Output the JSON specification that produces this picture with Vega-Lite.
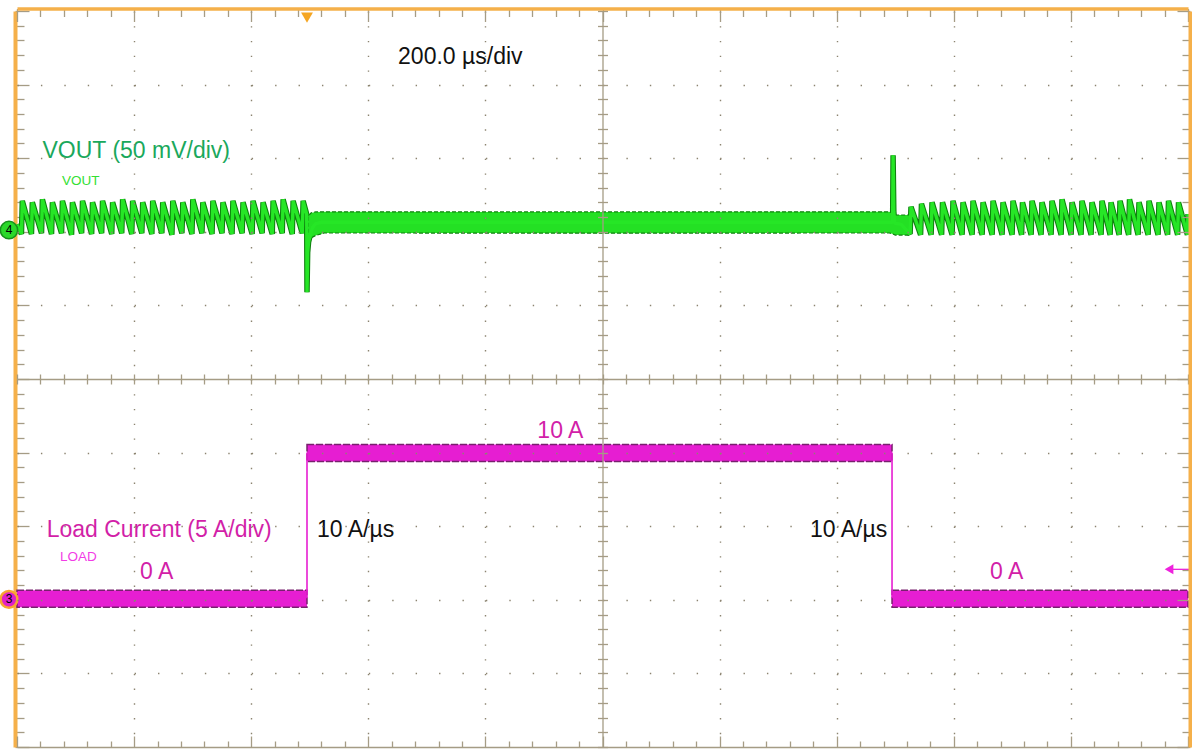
{
  "$schema": "https://vega.github.io/schema/vega-lite/v6.json",
  "width": 1171,
  "height": 736,
  "autosize": "none",
  "padding": {"left": 17, "top": 11, "right": 4, "bottom": 2},
  "background": "white",
  "config": {"view": {"stroke": null}},
  "datasets": {
    "vout": [
      {"t": -500, "v": 5}, {"t": -492.4, "v": -1.5},
      {"t": -490.9, "v": 21}, {"t": -475.3, "v": -1.5},
      {"t": -473.8, "v": 20}, {"t": -458.1, "v": -1},
      {"t": -456.6, "v": 22}, {"t": -441.0, "v": -1.5},
      {"t": -439.5, "v": 20}, {"t": -423.9, "v": -1},
      {"t": -422.4, "v": 21}, {"t": -406.8, "v": -2},
      {"t": -405.3, "v": 20}, {"t": -389.6, "v": -1},
      {"t": -388.1, "v": 21}, {"t": -372.5, "v": -1.5},
      {"t": -371.0, "v": 20}, {"t": -355.4, "v": -1},
      {"t": -353.9, "v": 21}, {"t": -338.2, "v": -1.5},
      {"t": -336.7, "v": 20}, {"t": -321.1, "v": -1},
      {"t": -319.6, "v": 22}, {"t": -304.0, "v": -1.5},
      {"t": -302.5, "v": 21}, {"t": -286.8, "v": -1},
      {"t": -285.3, "v": 20}, {"t": -269.7, "v": -1.5},
      {"t": -268.2, "v": 21}, {"t": -252.6, "v": -1},
      {"t": -251.1, "v": 20}, {"t": -235.4, "v": -2},
      {"t": -233.9, "v": 21}, {"t": -218.3, "v": -1},
      {"t": -216.8, "v": 20}, {"t": -201.2, "v": -1.5},
      {"t": -199.7, "v": 22}, {"t": -184.1, "v": -1},
      {"t": -182.6, "v": 20}, {"t": -166.9, "v": -1.5},
      {"t": -165.4, "v": 21}, {"t": -149.8, "v": -1},
      {"t": -148.3, "v": 20}, {"t": -132.7, "v": -1.5},
      {"t": -131.2, "v": 21}, {"t": -115.5, "v": -1},
      {"t": -114.0, "v": 20}, {"t": -98.4, "v": -1.5},
      {"t": -96.9, "v": 21}, {"t": -81.3, "v": -1},
      {"t": -79.8, "v": 20}, {"t": -64.1, "v": -1.5},
      {"t": -62.6, "v": 21}, {"t": -47.0, "v": -1},
      {"t": -45.5, "v": 22}, {"t": -29.9, "v": -1.5},
      {"t": -28.4, "v": 21}, {"t": -12.8, "v": -1},
      {"t": -11.3, "v": 21}, {"t": -5.2, "v": 12},
      {"t": -4.7, "v": -41}, {"t": -3.6, "v": -14}, {"t": -2, "v": -7}, {"t": 1, "v": -2},
      {"t": 5, "v": 3}, {"t": 10, "v": 5.5}, {"t": 20, "v": 6.5}, {"t": 500, "v": 6.5},
      {"t": 995.5, "v": 6.5}, {"t": 996.3, "v": 52}, {"t": 997.5, "v": 14}, {"t": 999, "v": 6},
      {"t": 1010, "v": 5}, {"t": 1025.4, "v": -1.5},
      {"t": 1026.9, "v": 17}, {"t": 1043.3, "v": -2},
      {"t": 1044.8, "v": 19}, {"t": 1061.3, "v": -2},
      {"t": 1062.8, "v": 20}, {"t": 1079.2, "v": -2},
      {"t": 1080.7, "v": 20}, {"t": 1097.1, "v": -2},
      {"t": 1098.6, "v": 21}, {"t": 1114.2, "v": -2},
      {"t": 1115.7, "v": 20}, {"t": 1131.3, "v": -2},
      {"t": 1132.8, "v": 21}, {"t": 1148.4, "v": -2},
      {"t": 1149.9, "v": 20}, {"t": 1165.5, "v": -2},
      {"t": 1167.0, "v": 21}, {"t": 1182.5, "v": -2},
      {"t": 1184.0, "v": 20}, {"t": 1199.6, "v": -2},
      {"t": 1201.1, "v": 21}, {"t": 1215.8, "v": -2},
      {"t": 1217.3, "v": 20}, {"t": 1232.1, "v": -2},
      {"t": 1233.6, "v": 21}, {"t": 1249.1, "v": -2},
      {"t": 1250.6, "v": 20}, {"t": 1266.2, "v": -2},
      {"t": 1267.7, "v": 21}, {"t": 1283.3, "v": -2},
      {"t": 1284.8, "v": 22}, {"t": 1300.4, "v": -2},
      {"t": 1301.9, "v": 20}, {"t": 1317.4, "v": -2},
      {"t": 1318.9, "v": 21}, {"t": 1334.5, "v": -2},
      {"t": 1336.0, "v": 20}, {"t": 1351.6, "v": -2},
      {"t": 1353.1, "v": 21}, {"t": 1367.0, "v": -2},
      {"t": 1368.5, "v": 20}, {"t": 1382.4, "v": -2},
      {"t": 1383.9, "v": 21}, {"t": 1398.6, "v": -2},
      {"t": 1400.1, "v": 22}, {"t": 1414.8, "v": -2},
      {"t": 1416.3, "v": 20}, {"t": 1431.9, "v": -2},
      {"t": 1433.4, "v": 21}, {"t": 1448.9, "v": -2},
      {"t": 1450.4, "v": 20}, {"t": 1465.2, "v": -2},
      {"t": 1466.7, "v": 21}, {"t": 1482.3, "v": -2},
      {"t": 1483.8, "v": 20}, {"t": 1499, "v": -2},
      {"t": 1500, "v": 12}
    ],
    "band": [
      {"t": -3, "lo": -6.9, "hi": 10.1},
      {"t": 2, "lo": -4.2, "hi": 12.8},
      {"t": 10, "lo": -2.5, "hi": 13.5},
      {"t": 25, "lo": -0.8, "hi": 13.6},
      {"t": 500, "lo": -0.9, "hi": 13.5},
      {"t": 990, "lo": -0.8, "hi": 13.6},
      {"t": 996, "lo": -1.5, "hi": 12.5},
      {"t": 1000, "lo": -2.2, "hi": 11.4},
      {"t": 1025, "lo": -2.2, "hi": 11.4}
    ],
    "cur": [
      {"t": -500, "t2": -4.7, "lo": -0.5, "hi": 0.65},
      {"t": -4.7, "t2": 994.5, "lo": 9.4, "hi": 10.55},
      {"t": 994.5, "t2": 1500, "lo": -0.5, "hi": 0.65}
    ],
    "edges": [
      {"t": -4.7, "i1": 0.1, "i2": 10},
      {"t": 994.5, "i1": 0.1, "i2": 10}
    ]
  },
  "resolve": {"scale": {"y": "independent"}, "axis": {"x": "independent", "y": "independent"}},
  "layer": [
    {
      "data": {"name": "vout"},
      "mark": {"type": "line", "color": "#0f800f", "strokeWidth": 5.5, "strokeJoin": "bevel", "interpolate": "linear"},
      "encoding": {
        "x": {"field": "t", "type": "quantitative", "scale": {"domain": [-500, 1500], "nice": false, "zero": false},
          "axis": {"orient": "bottom", "values": [-500,-460,-420,-380,-340,-300,-260,-220,-180,-140,-100,-60,-20,20,60,100,140,180,220,260,300,340,380,420,460,500,540,580,620,660,700,740,780,820,860,900,940,980,1020,1060,1100,1140,1180,1220,1260,1300,1340,1380,1420,1460,1500],
            "domain": true, "domainColor": "#a59c85", "domainWidth": 1.5, "ticks": true, "tickColor": "#a59c85", "tickWidth": 1.3,
            "tickSize": {"condition": {"test": "abs(datum.value % 200) === 100", "value": -11}, "value": -6},
            "labels": false, "title": null, "grid": false, "zindex": 1}},
        "y": {"field": "v", "type": "quantitative", "scale": {"domain": [-350, 150], "nice": false, "zero": false},
          "axis": {"orient": "left", "offset": 2, "values": [-350,-340,-330,-320,-310,-300,-290,-280,-270,-260,-250,-240,-230,-220,-210,-200,-190,-180,-170,-160,-150,-140,-130,-120,-110,-100,-90,-80,-70,-60,-50,-40,-30,-20,-10,0,10,20,30,40,50,60,70,80,90,100,110,120,130,140,150],
            "domain": true, "domainColor": "#f5b04a", "domainWidth": 4, "ticks": true, "tickColor": "#a59c85", "tickWidth": 1.3,
            "tickSize": {"condition": {"test": "datum.value % 50 === 0", "value": -14}, "value": -9},
            "labels": false, "title": null, "grid": false, "zindex": 0}}
      }
    },
    {
      "data": {"name": "band"},
      "mark": {"type": "area", "color": "#24e024", "stroke": "#0f800f", "strokeWidth": 1.2, "strokeDash": [4, 2], "interpolate": "linear"},
      "encoding": {
        "x": {"field": "t", "type": "quantitative", "scale": {"domain": [-500, 1500], "nice": false, "zero": false},
          "axis": {"orient": "bottom", "values": [-300,-100,100,300,700,900,1100,1300], "domain": false, "ticks": false, "labels": false, "title": null,
            "grid": true, "gridColor": "#8c8470", "gridWidth": 1.4, "gridDash": [1.4, 13.32], "zindex": 1}},
        "y": {"field": "lo", "type": "quantitative", "scale": {"domain": [-350, 150], "nice": false, "zero": false},
          "axis": {"orient": "left", "values": [-300,-250,-200,-150,-50,0,50,100], "domain": false, "ticks": false, "labels": false, "title": null,
            "grid": true, "gridColor": "#8c8470", "gridWidth": 1.4, "gridDash": [1.4, 22.02], "zindex": 1}},
        "y2": {"field": "hi"}
      }
    },
    {
      "data": {"name": "vout"},
      "mark": {"type": "line", "color": "#26e626", "strokeWidth": 3.4, "strokeJoin": "bevel", "interpolate": "linear"},
      "encoding": {
        "x": {"field": "t", "type": "quantitative", "scale": {"domain": [-500, 1500], "nice": false, "zero": false},
          "axis": {"orient": "top", "offset": 2.5, "values": [-500,-460,-420,-380,-340,-300,-260,-220,-180,-140,-100,-60,-20,20,60,100,140,180,220,260,300,340,380,420,460,500,540,580,620,660,700,740,780,820,860,900,940,980,1020,1060,1100,1140,1180,1220,1260,1300,1340,1380,1420,1460,1500],
            "domain": true, "domainColor": "#f5b04a", "domainWidth": 3.5, "ticks": true, "tickColor": "#a59c85", "tickWidth": 1.3,
            "tickSize": {"condition": {"test": "abs(datum.value % 200) === 100", "value": -13}, "value": -8},
            "labels": false, "title": null, "grid": false, "zindex": 1}},
        "y": {"field": "v", "type": "quantitative", "scale": {"domain": [-350, 150], "nice": false, "zero": false},
          "axis": {"orient": "right", "offset": 2, "values": [-350,-340,-330,-320,-310,-300,-290,-280,-270,-260,-250,-240,-230,-220,-210,-200,-190,-180,-170,-160,-150,-140,-130,-120,-110,-100,-90,-80,-70,-60,-50,-40,-30,-20,-10,0,10,20,30,40,50,60,70,80,90,100,110,120,130,140,150],
            "domain": true, "domainColor": "#f5b04a", "domainWidth": 4, "ticks": true, "tickColor": "#a59c85", "tickWidth": 1.3,
            "tickSize": {"condition": {"test": "datum.value % 50 === 0", "value": -13}, "value": -8},
            "labels": false, "title": null, "grid": false, "zindex": 1}}
      }
    },
    {
      "data": {"name": "cur"},
      "mark": {"type": "rect", "color": "#e61ed2", "stroke": "#78206e", "strokeWidth": 1.5, "strokeDash": [7, 2]},
      "encoding": {
        "x": {"field": "t", "type": "quantitative", "scale": {"domain": [-500, 1500], "nice": false, "zero": false},
          "axis": {"orient": "bottom", "offset": -368, "values": [-500,-460,-420,-380,-340,-300,-260,-220,-180,-140,-100,-60,-20,20,60,100,140,180,220,260,300,340,380,420,460,500,540,580,620,660,700,740,780,820,860,900,940,980,1020,1060,1100,1140,1180,1220,1260,1300,1340,1380,1420,1460,1500],
            "domain": true, "domainColor": "#a59c85", "domainWidth": 1.3, "ticks": true, "tickColor": "#a59c85", "tickWidth": 1.3, "tickSize": 5,
            "labels": false, "title": null, "grid": false, "zindex": 1}},
        "x2": {"field": "t2"},
        "y": {"field": "lo", "type": "quantitative", "scale": {"domain": [-10, 40], "nice": false, "zero": false}, "axis": null},
        "y2": {"field": "hi"}
      }
    },
    {
      "data": {"name": "edges"},
      "mark": {"type": "rule", "color": "#e61ed2", "strokeWidth": 1.6},
      "encoding": {
        "x": {"field": "t", "type": "quantitative", "scale": {"domain": [-500, 1500], "nice": false, "zero": false},
          "axis": {"orient": "top", "offset": -368, "values": [-500,-460,-420,-380,-340,-300,-260,-220,-180,-140,-100,-60,-20,20,60,100,140,180,220,260,300,340,380,420,460,500,540,580,620,660,700,740,780,820,860,900,940,980,1020,1060,1100,1140,1180,1220,1260,1300,1340,1380,1420,1460,1500],
            "domain": false, "ticks": true, "tickColor": "#a59c85", "tickWidth": 1.3, "tickSize": 5,
            "labels": false, "title": null, "grid": false, "zindex": 1}},
        "y": {"field": "i1", "type": "quantitative", "scale": {"domain": [-10, 40], "nice": false, "zero": false}, "axis": null},
        "y2": {"field": "i2"}
      }
    },
    {
      "data": {"values": [{"t": 150.8, "v": 114.3, "label": "200.0 µs/div"}]},
      "mark": {"type": "text", "font": "Liberation Sans", "fontSize": 23, "color": "#111111", "align": "left", "baseline": "alphabetic"},
      "encoding": {
        "x": {"field": "t", "type": "quantitative", "scale": {"domain": [-500, 1500], "nice": false, "zero": false}, "axis": null},
        "y": {"field": "v", "type": "quantitative", "scale": {"domain": [-350, 150], "nice": false, "zero": false},
          "axis": {"orient": "left", "offset": -585.5, "values": [-350,-340,-330,-320,-310,-300,-290,-280,-270,-260,-250,-240,-230,-220,-210,-200,-190,-180,-170,-160,-150,-140,-130,-120,-110,-100,-90,-80,-70,-60,-50,-40,-30,-20,-10,0,10,20,30,40,50,60,70,80,90,100,110,120,130,140,150],
            "domain": true, "domainColor": "#a59c85", "domainWidth": 1.3, "ticks": true, "tickColor": "#a59c85", "tickWidth": 1.3, "tickSize": 5,
            "labels": false, "title": null, "grid": false, "zindex": 1}},
        "text": {"field": "label"}
      }
    },
    {
      "data": {"values": [{"t": -456.4, "v": 50.1, "label": "VOUT (50 mV/div)"}]},
      "mark": {"type": "text", "font": "Liberation Sans", "fontSize": 23, "color": "#1aa85c", "align": "left", "baseline": "alphabetic"},
      "encoding": {
        "x": {"field": "t", "type": "quantitative", "scale": {"domain": [-500, 1500], "nice": false, "zero": false}, "axis": null},
        "y": {"field": "v", "type": "quantitative", "scale": {"domain": [-350, 150], "nice": false, "zero": false},
          "axis": {"orient": "right", "offset": -585.5, "values": [-350,-340,-330,-320,-310,-300,-290,-280,-270,-260,-250,-240,-230,-220,-210,-200,-190,-180,-170,-160,-150,-140,-130,-120,-110,-100,-90,-80,-70,-60,-50,-40,-30,-20,-10,0,10,20,30,40,50,60,70,80,90,100,110,120,130,140,150],
            "domain": false, "ticks": true, "tickColor": "#a59c85", "tickWidth": 1.3, "tickSize": 5,
            "labels": false, "title": null, "grid": false, "zindex": 1}},
        "text": {"field": "label"}
      }
    },
    {
      "data": {"values": [{"t": -423.1, "v": 31.8, "label": "VOUT"}]},
      "mark": {"type": "text", "font": "Liberation Sans Narrow, Liberation Sans", "fontSize": 13.5, "color": "#33e033", "align": "left", "baseline": "alphabetic"},
      "encoding": {
        "x": {"field": "t", "type": "quantitative", "scale": {"domain": [-500, 1500], "nice": false, "zero": false}, "axis": null},
        "y": {"field": "v", "type": "quantitative", "scale": {"domain": [-350, 150], "nice": false, "zero": false}, "axis": null},
        "text": {"field": "label"}
      }
    },
    {
      "data": {"values": [
        {"t": -449.3, "i": 4.29, "label": "Load Current (5 A/div)"},
        {"t": -289.9, "i": 1.39, "label": "0 A"},
        {"t": 1161.9, "i": 1.39, "label": "0 A"},
        {"t": 388.7, "i": 10.97, "label": "10 A"}
      ]},
      "mark": {"type": "text", "font": "Liberation Sans", "fontSize": 23, "color": "#d21fa8", "align": "left", "baseline": "alphabetic"},
      "encoding": {
        "x": {"field": "t", "type": "quantitative", "scale": {"domain": [-500, 1500], "nice": false, "zero": false}, "axis": null},
        "y": {"field": "i", "type": "quantitative", "scale": {"domain": [-10, 40], "nice": false, "zero": false}, "axis": null},
        "text": {"field": "label"}
      }
    },
    {
      "data": {"values": [{"t": -426.6, "i": 2.64, "label": "LOAD"}]},
      "mark": {"type": "text", "font": "Liberation Sans Narrow, Liberation Sans", "fontSize": 13.5, "color": "#f23ce6", "align": "left", "baseline": "alphabetic"},
      "encoding": {
        "x": {"field": "t", "type": "quantitative", "scale": {"domain": [-500, 1500], "nice": false, "zero": false}, "axis": null},
        "y": {"field": "i", "type": "quantitative", "scale": {"domain": [-10, 40], "nice": false, "zero": false}, "axis": null},
        "text": {"field": "label"}
      }
    },
    {
      "data": {"values": [
        {"t": 12.4, "i": 4.29, "label": "10 A/µs"},
        {"t": 854.4, "i": 4.29, "label": "10 A/µs"}
      ]},
      "mark": {"type": "text", "font": "Liberation Sans", "fontSize": 23, "color": "#111111", "align": "left", "baseline": "alphabetic"},
      "encoding": {
        "x": {"field": "t", "type": "quantitative", "scale": {"domain": [-500, 1500], "nice": false, "zero": false}, "axis": null},
        "y": {"field": "i", "type": "quantitative", "scale": {"domain": [-10, 40], "nice": false, "zero": false}, "axis": null},
        "text": {"field": "label"}
      }
    },
    {
      "data": {"values": [{"t": -513.7, "v": 1.2, "label": "4"}]},
      "mark": {"type": "point", "shape": "circle", "filled": true, "size": 300, "color": "#2ad82a", "stroke": "#15901a", "strokeWidth": 1.5, "opacity": 1},
      "encoding": {
        "x": {"field": "t", "type": "quantitative", "scale": {"domain": [-500, 1500], "nice": false, "zero": false}, "axis": null},
        "y": {"field": "v", "type": "quantitative", "scale": {"domain": [-350, 150], "nice": false, "zero": false}, "axis": null}
      }
    },
    {
      "data": {"values": [{"t": -513.7, "v": 1.2, "label": "4"}]},
      "mark": {"type": "text", "font": "Liberation Sans", "fontSize": 12, "color": "#000000", "align": "center", "baseline": "middle"},
      "encoding": {
        "x": {"field": "t", "type": "quantitative", "scale": {"domain": [-500, 1500], "nice": false, "zero": false}, "axis": null},
        "y": {"field": "v", "type": "quantitative", "scale": {"domain": [-350, 150], "nice": false, "zero": false}, "axis": null},
        "text": {"field": "label"}
      }
    },
    {
      "data": {"values": [{"t": -513.7, "i": 0.03, "label": "3"}]},
      "mark": {"type": "point", "shape": "circle", "filled": true, "size": 280, "color": "#e020c8", "stroke": "#f7a531", "strokeWidth": 2.5, "opacity": 1},
      "encoding": {
        "x": {"field": "t", "type": "quantitative", "scale": {"domain": [-500, 1500], "nice": false, "zero": false}, "axis": null},
        "y": {"field": "i", "type": "quantitative", "scale": {"domain": [-10, 40], "nice": false, "zero": false}, "axis": null}
      }
    },
    {
      "data": {"values": [{"t": -513.7, "i": 0.03, "label": "3"}]},
      "mark": {"type": "text", "font": "Liberation Sans", "fontSize": 12, "color": "#000000", "align": "center", "baseline": "middle"},
      "encoding": {
        "x": {"field": "t", "type": "quantitative", "scale": {"domain": [-500, 1500], "nice": false, "zero": false}, "axis": null},
        "y": {"field": "i", "type": "quantitative", "scale": {"domain": [-10, 40], "nice": false, "zero": false}, "axis": null},
        "text": {"field": "label"}
      }
    },
    {
      "data": {"values": [{"t": -4.7, "v": 145.5}]},
      "mark": {"type": "point", "shape": "triangle-down", "filled": true, "size": 140, "color": "#f5a623", "opacity": 1},
      "encoding": {
        "x": {"field": "t", "type": "quantitative", "scale": {"domain": [-500, 1500], "nice": false, "zero": false}, "axis": null},
        "y": {"field": "v", "type": "quantitative", "scale": {"domain": [-350, 150], "nice": false, "zero": false}, "axis": null}
      }
    },
    {
      "data": {"values": [{"t": 1472, "t2": 1508, "i": 2.07}]},
      "mark": {"type": "rule", "color": "#ee22dd", "strokeWidth": 1.3},
      "encoding": {
        "x": {"field": "t", "type": "quantitative", "scale": {"domain": [-500, 1500], "nice": false, "zero": false}, "axis": null},
        "x2": {"field": "t2"},
        "y": {"field": "i", "type": "quantitative", "scale": {"domain": [-10, 40], "nice": false, "zero": false}, "axis": null}
      }
    },
    {
      "data": {"values": [{"t": 1467.6, "i": 2.07}]},
      "mark": {"type": "point", "shape": "triangle-left", "filled": true, "size": 100, "color": "#ee22dd", "opacity": 1},
      "encoding": {
        "x": {"field": "t", "type": "quantitative", "scale": {"domain": [-500, 1500], "nice": false, "zero": false}, "axis": null},
        "y": {"field": "i", "type": "quantitative", "scale": {"domain": [-10, 40], "nice": false, "zero": false}, "axis": null}
      }
    }
  ]
}
